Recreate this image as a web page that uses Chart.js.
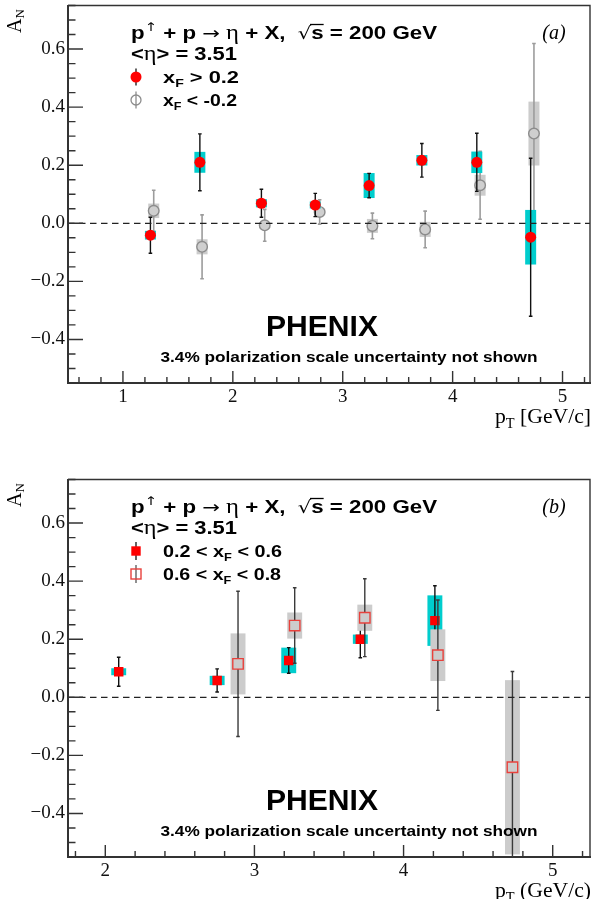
<!DOCTYPE html>
<html>
<head>
<meta charset="utf-8">
<title>eta A_N vs pT</title>
<script src="https://cdn.jsdelivr.net/npm/chart.js@4.4.1/dist/chart.umd.min.js"></script>
<style>
  html, body { margin: 0; padding: 0; background: #fff; }
  #wrap { position: relative; width: 593px; height: 899px; overflow: hidden; }
  .panel { position: absolute; left: 0; width: 593px; }
  #panelA { top: 0; height: 474px; }
  #panelB { top: 474px; height: 425px; }
</style>
</head>
<body>
<div id="wrap">
  <div class="panel" id="panelA"><canvas id="chartA"></canvas></div>
  <div class="panel" id="panelB"><canvas id="chartB"></canvas></div>
</div>
<script>
// ------------------------------------------------------------
// Panel (a): x_F > 0.2 vs x_F < -0.2
// ------------------------------------------------------------
const ptFwdA   = [1.25, 1.70, 2.26, 2.75, 3.24, 3.72, 4.22, 4.71];
const anFwdA   = [-0.041, 0.210, 0.069, 0.063, 0.130, 0.217, 0.210, -0.048];
const statFwdA = [0.062, 0.098, 0.048, 0.040, 0.042, 0.058, 0.100, 0.272];
const sysFwdA  = [0.015, 0.036, 0.014, 0.012, 0.043, 0.018, 0.037, 0.094];

const ptBwdA   = [1.28, 1.72, 2.29, 2.79, 3.27, 3.75, 4.25, 4.74];
const anBwdA   = [0.043, -0.081, -0.007, 0.039, -0.009, -0.021, 0.131, 0.309];
const statBwdA = [0.071, 0.110, 0.055, 0.042, 0.044, 0.063, 0.117, 0.310];
const sysBwdA  = [0.025, 0.026, 0.010, 0.012, 0.024, 0.026, 0.036, 0.110];

// ------------------------------------------------------------
// Panel (b): 0.2 < x_F < 0.6 vs 0.6 < x_F < 0.8
// ------------------------------------------------------------
const ptLowB   = [2.09, 2.75, 3.23, 3.71, 4.21];
const anLowB   = [0.088, 0.058, 0.127, 0.200, 0.264];
const statLowB = [0.050, 0.040, 0.044, 0.064, 0.120];
const sysLowB  = [0.012, 0.016, 0.044, 0.016, 0.087];

const ptHighB   = [2.89, 3.27, 3.74, 4.23, 4.73];
const anHighB   = [0.115, 0.247, 0.274, 0.145, -0.241];
const statHighB = [0.250, 0.130, 0.134, 0.190, 0.330];
const sysHighB  = [0.105, 0.045, 0.045, 0.089, 0.300];

// axis ranges and tick labels
const yRange = [-0.55, 0.75];
const yTickValues = [-0.4, -0.2, 0.0, 0.2, 0.4, 0.6];
const yTickLabels = ["\u22120.4", "\u22120.2", "0.0", "0.2", "0.4", "0.6"];
const xRangeA = [0.5, 5.25];
const xRangeB = [1.75, 5.25];
const xTickValuesA = [1, 2, 3, 4, 5];
const xTickValuesB = [2, 3, 4, 5];
const xTickLabelsA = ["1", "2", "3", "4", "5"];
const xTickLabelsB = ["2", "3", "4", "5"];

// ------------------------------------------------------------
// Styling
// ------------------------------------------------------------
const AXIS_COLOR = "#333";
const BOX_HALF_PT = 0.05;           // half width of systematic boxes (GeV/c)
const CYAN = "#00cdcd";
const LIGHT_GRAY = "#cccccc";

const B18 = 'bold 18px "Liberation Sans"';
const B17 = 'bold 17px "Liberation Sans"';
const SUB = 'bold 11px "Liberation Sans"';
const SYM = '17px "DejaVu Sans"';
const GREEK = '20px "Liberation Serif"';

function near(a, b) { return Math.abs(a - b) < 1e-6; }

// draws a row of differently styled pieces; optional total width squeezes it
function drawRich(ctx, x, y, segs, width, align) {
  let w = 0;
  segs.forEach(s => { ctx.font = s.f; w += ctx.measureText(s.t).width; });
  const k = width ? width / w : 1;
  const total = w * k;
  let x0 = x;
  if (align === "center") x0 = x - total / 2;
  if (align === "right") x0 = x - total;
  ctx.save();
  ctx.translate(x0, y);
  ctx.scale(k, 1);
  ctx.textBaseline = "alphabetic";
  ctx.textAlign = "left";
  let cx = 0;
  segs.forEach(s => {
    ctx.font = s.f;
    const sw = ctx.measureText(s.t).width;
    ctx.fillText(s.t, cx, s.dy || 0);
    if (s.over) {
      ctx.save();
      ctx.lineWidth = 1.3;
      ctx.strokeStyle = ctx.fillStyle;
      ctx.beginPath();
      ctx.moveTo(cx - 1, -14.5);
      ctx.lineTo(cx + sw, -14.5);
      ctx.stroke();
      ctx.restore();
    }
    cx += sw;
  });
  ctx.restore();
}

const titleSegs = [
  { t: "p", f: B18 },
  { t: "\u2191", f: '12px "DejaVu Sans"', dy: -8 },
  { t: " + p ", f: B18 },
  { t: "\u2192", f: SYM },
  { t: " ", f: B18 },
  { t: "\u03b7", f: GREEK },
  { t: " + X,  ", f: B18 },
  { t: "\u221a", f: SYM },
  { t: "s", f: B18, over: true },
  { t: " = 200 GeV", f: B18 }
];
const etaSegs = [
  { t: "<", f: B18 },
  { t: "\u03b7", f: GREEK },
  { t: "> = 3.51", f: B18 }
];

function xfLabel(before, after) {
  const segs = [];
  if (before) segs.push({ t: before, f: B17 });
  segs.push({ t: "x", f: B17 });
  segs.push({ t: "F", f: SUB, dy: 4 });
  segs.push({ t: after, f: B17 });
  return segs;
}

// legend marker glyphs
function legendMark(ctx, kind, x, y) {
  ctx.save();
  ctx.lineWidth = 1.3;
  if (kind === "dot") {
    ctx.strokeStyle = "#111";
    ctx.beginPath(); ctx.moveTo(x, y - 8.5); ctx.lineTo(x, y + 8.5); ctx.stroke();
    ctx.fillStyle = "#ff0000";
    ctx.beginPath(); ctx.arc(x, y, 5.5, 0, Math.PI * 2); ctx.fill();
  } else if (kind === "ring") {
    ctx.strokeStyle = "#8c8c8c";
    ctx.beginPath(); ctx.moveTo(x, y - 8.5); ctx.lineTo(x, y + 8.5); ctx.stroke();
    ctx.beginPath(); ctx.arc(x, y, 5, 0, Math.PI * 2); ctx.stroke();
  } else if (kind === "square") {
    ctx.strokeStyle = "#111";
    ctx.beginPath(); ctx.moveTo(x, y - 9); ctx.lineTo(x, y + 9); ctx.stroke();
    ctx.fillStyle = "#ff0000";
    ctx.fillRect(x - 4.7, y - 4.7, 9.4, 9.4);
  } else {
    ctx.strokeStyle = "#555";
    ctx.beginPath(); ctx.moveTo(x, y - 9); ctx.lineTo(x, y + 9); ctx.stroke();
    ctx.strokeStyle = "#e8413c";
    ctx.lineWidth = 1.4;
    ctx.strokeRect(x - 5, y - 5, 10, 10);
  }
  ctx.restore();
}

// ------------------------------------------------------------
// Plugins: error boxes / bars, zero line, frame + inner ticks, text
// ------------------------------------------------------------
const errorBoxes = {
  id: "errorBoxes",
  beforeDatasetDraw(chart, args) {
    const ds = chart.data.datasets[args.index];
    const { ctx, chartArea: a } = chart;
    const xs = chart.scales.x, ys = chart.scales.y;
    ctx.save();
    ctx.beginPath();
    ctx.rect(a.left, a.top, a.right - a.left, a.bottom - a.top);
    ctx.clip();

    // systematic uncertainty boxes
    ctx.fillStyle = ds.sysColor;
    ds.data.forEach((p, i) => {
      const l = xs.getPixelForValue(p.x - BOX_HALF_PT);
      const r = xs.getPixelForValue(p.x + BOX_HALF_PT);
      const t = ys.getPixelForValue(p.y + ds.sys[i]);
      const b = ys.getPixelForValue(p.y - ds.sys[i]);
      ctx.fillRect(l, t, r - l, b - t);
    });

    // statistical bars, not drawn inside the marker
    ctx.strokeStyle = ds.barColor;
    ctx.lineWidth = ds.barWidth;
    ds.data.forEach((p, i) => {
      const px = xs.getPixelForValue(p.x);
      const py = ys.getPixelForValue(p.y);
      const t = ys.getPixelForValue(p.y + ds.stat[i]);
      const b = ys.getPixelForValue(p.y - ds.stat[i]);
      ctx.beginPath();
      if (py - ds.gap > t) { ctx.moveTo(px, t); ctx.lineTo(px, py - ds.gap); }
      if (py + ds.gap < b) { ctx.moveTo(px, py + ds.gap); ctx.lineTo(px, b); }
      ctx.moveTo(px - 1.8, t); ctx.lineTo(px + 1.8, t);
      ctx.moveTo(px - 1.8, b); ctx.lineTo(px + 1.8, b);
      ctx.stroke();
    });
    ctx.restore();
  }
};

const zeroLine = {
  id: "zeroLine",
  afterDatasetsDraw(chart) {
    const { ctx, chartArea: a } = chart;
    const y0 = chart.scales.y.getPixelForValue(0);
    ctx.save();
    ctx.strokeStyle = "#222";
    ctx.lineWidth = 1.3;
    ctx.setLineDash([6.5, 4.5]);
    ctx.beginPath();
    ctx.moveTo(a.left, y0);
    ctx.lineTo(a.right, y0);
    ctx.stroke();
    ctx.restore();
  }
};

const frameTicks = {
  id: "frameTicks",
  afterDraw(chart, args, o) {
    const { ctx, chartArea: a } = chart;
    const xs = chart.scales.x, ys = chart.scales.y;
    ctx.save();
    ctx.strokeStyle = AXIS_COLOR;
    ctx.lineWidth = 1.4;
    ctx.beginPath();
    xs.ticks.forEach(t => {
      const major = o.xMajor.some(v => near(v, t.value));
      const px = xs.getPixelForValue(t.value);
      ctx.moveTo(px, a.bottom);
      ctx.lineTo(px, a.bottom - (major ? 12 : 6));
    });
    ys.ticks.forEach(t => {
      const major = yTickValues.some(v => near(v, t.value));
      const py = ys.getPixelForValue(t.value);
      ctx.moveTo(a.left, py);
      ctx.lineTo(a.left + (major ? 15 : 7.5), py);
    });
    ctx.stroke();

    // top and right edges of the frame
    ctx.beginPath();
    ctx.moveTo(a.left, a.top);
    ctx.lineTo(a.right, a.top);
    ctx.lineTo(a.right, a.bottom);
    ctx.stroke();
    ctx.restore();
  }
};

const panelText = {
  id: "panelText",
  afterDraw(chart, args, o) {
    const ctx = chart.ctx;
    ctx.save();
    ctx.fillStyle = "#000";

    drawRich(ctx, 131, 39, titleSegs, 306);
    drawRich(ctx, 131, 60, etaSegs, 106);

    o.legend.forEach((e, i) => {
      const y = 77 + i * 23;
      legendMark(ctx, e.mark, 136, y);
      drawRich(ctx, 163, y + 6, e.segs, e.width);
    });

    // panel tag
    ctx.font = 'italic 20px "Liberation Serif"';
    ctx.textAlign = "center";
    ctx.textBaseline = "alphabetic";
    ctx.fillText(o.tag, 554, 39);

    // experiment name and note
    drawRich(ctx, 322, 336, [{ t: "PHENIX", f: 'bold 30px "Liberation Sans"' }], 112, "center");
    drawRich(ctx, 349, 362, [{ t: "3.4% polarization scale uncertainty not shown", f: 'bold 15px "Liberation Sans"' }], 377, "center");

    // axis titles
    drawRich(ctx, 591, 423, [
      { t: "p", f: '21px "Liberation Serif"' },
      { t: "T", f: '14px "Liberation Serif"', dy: 5 },
      { t: o.xUnit, f: '21px "Liberation Serif"' }
    ], 96, "right");

    ctx.save();
    ctx.translate(20.5, 33);
    ctx.rotate(-Math.PI / 2);
    drawRich(ctx, 0, 0, [
      { t: "A", f: '20px "Liberation Serif"' },
      { t: "N", f: '13px "Liberation Serif"', dy: 3 }
    ]);
    ctx.restore();

    ctx.restore();
  }
};

// ------------------------------------------------------------
// Chart builder
// ------------------------------------------------------------
function makeSeries(pt, an, stat, sys, look) {
  return Object.assign({
    data: pt.map((x, i) => ({ x: x, y: an[i] })),
    stat: stat,
    sys: sys
  }, look);
}

function makePanel(canvasId, panelHeight, xRange, xTickValues, xTickLabels, datasets, textOpts) {
  const frameBottom = 383;
  return new Chart(document.getElementById(canvasId), {
    type: "scatter",
    data: { datasets: datasets },
    options: {
      responsive: true,
      maintainAspectRatio: false,
      animation: false,
      events: [],
      layout: { padding: { top: 5.5, right: 3, left: 0, bottom: 0 }, autoPadding: false },
      plugins: {
        legend: { display: false },
        tooltip: { enabled: false },
        frameTicks: { xMajor: xTickValues },
        panelText: textOpts
      },
      scales: {
        x: {
          type: "linear",
          min: xRange[0],
          max: xRange[1],
          grid: { display: true, drawOnChartArea: false, drawTicks: false },
          border: { display: true, color: AXIS_COLOR, width: 2 },
          ticks: {
            stepSize: 0.2,
            includeBounds: false,
            autoSkip: false,
            maxRotation: 0,
            minRotation: 0,
            padding: 3,
            color: "#111",
            font: { family: "Liberation Serif", size: 19 },
            callback: v => {
              const k = xTickValues.findIndex(t => near(t, v));
              return k >= 0 ? xTickLabels[k] : "";
            }
          },
          afterFit: s => {
            s.height = panelHeight - frameBottom;
            s.paddingLeft = 0;
            s.paddingRight = 0;
          }
        },
        y: {
          type: "linear",
          min: yRange[0],
          max: yRange[1],
          grid: { display: true, drawOnChartArea: false, drawTicks: false },
          border: { display: true, color: AXIS_COLOR, width: 2 },
          ticks: {
            stepSize: 0.05,
            includeBounds: false,
            autoSkip: false,
            padding: 3,
            color: "#111",
            font: { family: "Liberation Serif", size: 19 },
            callback: v => {
              const k = yTickValues.findIndex(t => near(t, v));
              return k >= 0 ? yTickLabels[k] : "";
            }
          },
          afterFit: s => {
            s.width = 68;
            s.paddingTop = 0;
            s.paddingBottom = 0;
          }
        }
      }
    },
    plugins: [errorBoxes, zeroLine, frameTicks, panelText]
  });
}

// panel (a): forward points drawn on top of backward ones
makePanel("chartA", 474, xRangeA, xTickValuesA, xTickLabelsA, [
  makeSeries(ptFwdA, anFwdA, statFwdA, sysFwdA, {
    pointStyle: "circle", pointRadius: 5.5, backgroundColor: "#ff0000", borderWidth: 0,
    sysColor: CYAN, barColor: "#111", barWidth: 1.4, gap: 0
  }),
  makeSeries(ptBwdA, anBwdA, statBwdA, sysBwdA, {
    pointStyle: "circle", pointRadius: 5.3, backgroundColor: "#cfcfcf", borderColor: "#8c8c8c", borderWidth: 1.4,
    sysColor: LIGHT_GRAY, barColor: "#9c9c9c", barWidth: 1.6, gap: 5.3
  })
], {
  tag: "(a)",
  xUnit: " [GeV/c]",
  legend: [
    { mark: "dot", segs: xfLabel("", " > 0.2"), width: 76 },
    { mark: "ring", segs: xfLabel("", " < -0.2"), width: 74 }
  ]
});

// panel (b): high-x_F open squares drawn on top
makePanel("chartB", 425, xRangeB, xTickValuesB, xTickLabelsB, [
  makeSeries(ptHighB, anHighB, statHighB, sysHighB, {
    pointStyle: "rect", pointRadius: 7.4, backgroundColor: "rgba(0,0,0,0)", borderColor: "#e8413c", borderWidth: 1.4,
    sysColor: LIGHT_GRAY, barColor: "#3a3a3a", barWidth: 1.4, gap: 5.2
  }),
  makeSeries(ptLowB, anLowB, statLowB, sysLowB, {
    pointStyle: "rect", pointRadius: 6.7, backgroundColor: "#ff0000", borderWidth: 0,
    sysColor: CYAN, barColor: "#111", barWidth: 1.4, gap: 0
  })
], {
  tag: "(b)",
  xUnit: " (GeV/c)",
  legend: [
    { mark: "square", segs: xfLabel("0.2 < ", " < 0.6"), width: 119 },
    { mark: "open", segs: xfLabel("0.6 < ", " < 0.8"), width: 118 }
  ]
});
</script>
</body>
</html>
